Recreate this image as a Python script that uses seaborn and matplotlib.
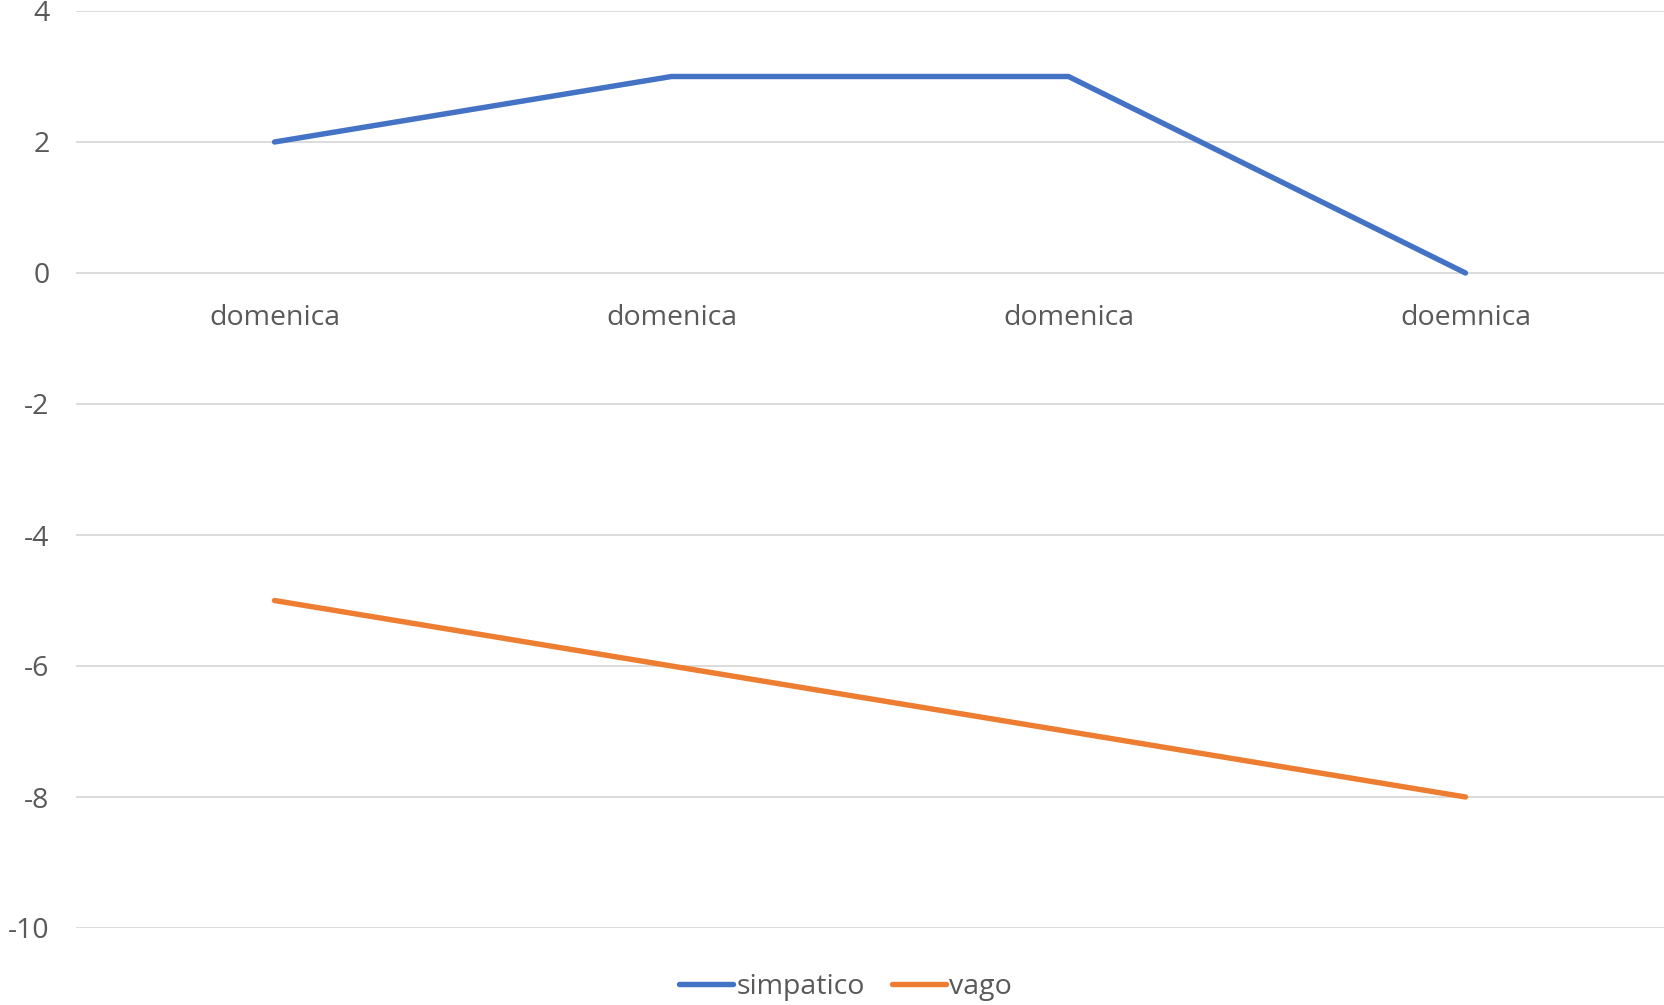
import seaborn as sns
import pandas as pd
import numpy as np
import matplotlib
matplotlib.use('Agg')
import matplotlib.pyplot as plt

categories = ['domenica', 'domenica', 'domenica', 'doemnica']
simpatico = [2, 3, 3, 0]
vago = [-5, -6, -7, -8]
series_names = ['simpatico', 'vago']
colors = ['#4472C4', '#ED7D31']

sns.set_style('white')
plt.rcParams['font.family'] = ['Open Sans', 'DejaVu Sans']
plt.rcParams['axes.unicode_minus'] = False

pos = np.arange(len(categories))
df = pd.DataFrame({
    'pos': np.concatenate([pos, pos]),
    'value': simpatico + vago,
    'serie': [series_names[0]] * len(pos) + [series_names[1]] * len(pos),
})

fig = plt.figure(figsize=(16.64, 10.05), dpi=100)
ax = fig.add_axes([76 / 1664, 1 - 928 / 1005, 1 - 76 / 1664, (928 - 11) / 1005])

sns.lineplot(data=df, x='pos', y='value', hue='serie', palette=colors,
             linewidth=3.9, ax=ax, legend=False, solid_capstyle='round')

ax.set_xlim(-0.5, len(categories) - 0.5)
ax.set_ylim(-10, 4)
ax.set_yticks(range(-10, 5, 2))
ax.grid(axis='y', color='#D9D9D9', linewidth=1.3)
ax.set_axisbelow(True)
for s in ax.spines.values():
    s.set_visible(False)

# category axis crosses at zero
ax.spines['bottom'].set_position(('data', 0))
ax.set_xticks(pos)
ax.set_xticklabels(categories)
ax.tick_params(axis='x', length=0, pad=22, labelsize=20.5, labelcolor='#595959')
ax.tick_params(axis='y', length=0, pad=19, labelsize=20.5, labelcolor='#595959')
ax.set_xlabel('')
ax.set_ylabel('')

handles = [plt.Line2D([], [], color=c, linewidth=3.9, solid_capstyle='round') for c in colors]
fig.legend(handles, series_names, loc='center', bbox_to_anchor=(0.508, 1 - 987 / 1005),
           ncol=2, frameon=False, fontsize=20.5, handlelength=1.9, handletextpad=0.1,
           columnspacing=0.95, labelcolor='#595959')

fig.savefig('out.png', dpi=100)
